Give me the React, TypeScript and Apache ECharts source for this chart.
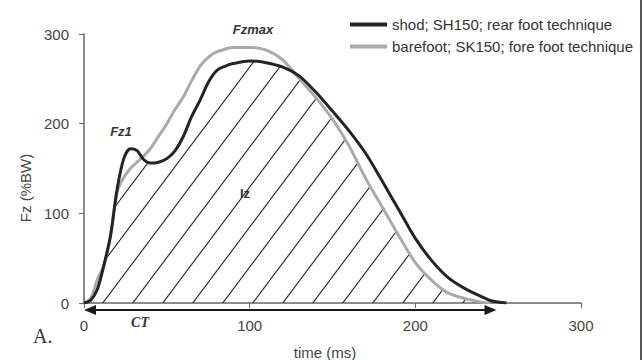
import React, { useEffect, useRef } from "react";
import * as echarts from "echarts";

const times = [0, 4, 8, 12, 16, 20, 24, 28, 32, 36, 40, 45, 50, 55, 60, 65, 70, 75, 80, 85, 90, 100, 110, 120, 130, 140, 150, 160, 170, 180, 190, 200, 210, 220, 230, 240, 245, 250, 255];
const shod = [0, 3, 15, 42, 75, 127, 161, 172, 170, 160, 156, 157, 161, 170, 186, 208, 226, 246, 259, 264, 267, 270, 268, 263, 253, 235, 214, 192, 167, 136, 104, 72, 47, 28, 16, 7, 3, 1, 0];
const barefoot = [0, 5, 26, 42, 75, 124, 140, 150, 157, 164, 172, 186, 200, 216, 230, 248, 264, 274, 280, 283, 285, 285, 282, 271, 250, 229, 205, 175, 139, 107, 75, 45, 25, 11, 5, 1, 0, null, null];
const seriesNames = ["shod; SH150; rear foot technique", "barefoot; SK150; fore foot technique"];
const xTicks = { min: 0, max: 300, interval: 100 };
const yTicks = { min: 0, max: 300, interval: 100 };
const contactTime = 249;

const hatchSvg =
  '<svg xmlns="http://www.w3.org/2000/svg" width="30" height="40">' +
  '<g stroke="#2b2b2b" stroke-width="1.1" fill="none">' +
  '<line x1="-30" y1="40" x2="0" y2="0"/><line x1="0" y1="40" x2="30" y2="0"/><line x1="30" y1="40" x2="60" y2="0"/>' +
  "</g></svg>";
const hatchUrl = "data:image/svg+xml;charset=utf-8," + encodeURIComponent(hatchSvg);

export default function App() {
  const ref = useRef<HTMLDivElement>(null);
  useEffect(() => {
    if (!ref.current) return;
    const chart = echarts.init(ref.current, null, { renderer: "svg" });
    const sans = "'Liberation Sans', Arial, sans-serif";
    const serif = "'Liberation Serif', 'Times New Roman', serif";
    const shodData = times.map((t, i) => [t, shod[i]]);
    const bareData = times.map((t, i) => [t, barefoot[i]]).filter((p) => p[1] !== null);
    const hatchData = times.map((t, i) => [t, Math.min(shod[i], barefoot[i] ?? 0)]);
    chart.setOption({
      animation: false,
      backgroundColor: "#ffffff",
      grid: { left: 84, right: 62, top: 34, bottom: 57 },
      legend: {
        data: seriesNames,
        orient: "vertical",
        left: 345,
        top: 12,
        itemWidth: 37,
        itemHeight: 4,
        itemGap: 7,
        icon: "rect",
        textStyle: { fontFamily: sans, fontSize: 15, color: "#333" },
      },
      xAxis: {
        type: "value",
        ...xTicks,
        axisLine: { lineStyle: { color: "#666", width: 1.5 } },
        axisTick: { show: true, length: 5, lineStyle: { color: "#666" } },
        splitLine: { show: false },
        axisLabel: { fontFamily: sans, fontSize: 15, color: "#444", margin: 15 },
      },
      yAxis: {
        type: "value",
        ...yTicks,
        axisLine: { show: true, lineStyle: { color: "#666", width: 1.5 } },
        axisTick: { show: true, length: 5, lineStyle: { color: "#666" } },
        splitLine: { show: false },
        axisLabel: { fontFamily: sans, fontSize: 15, color: "#444", margin: 15 },
      },
      series: [
        {
          name: "hatch",
          type: "line",
          data: hatchData,
          smooth: 0.3,
          showSymbol: false,
          lineStyle: { width: 0 },
          areaStyle: {
            color: { image: hatchUrl, repeat: "repeat", imageWidth: 30, imageHeight: 40 },
            opacity: 1,
          },
          z: 1,
          silent: true,
        },
        {
          name: seriesNames[1],
          type: "line",
          data: bareData,
          smooth: 0.3,
          showSymbol: false,
          color: "#aaaaaa",
          lineStyle: { width: 3, color: "#aaaaaa" },
          z: 2,
        },
        {
          name: seriesNames[0],
          type: "line",
          data: shodData,
          smooth: 0.3,
          showSymbol: false,
          color: "#242424",
          lineStyle: { width: 3, color: "#242424" },
          z: 3,
        },
      ],
    });
    const p0 = chart.convertToPixel({ xAxisIndex: 0, yAxisIndex: 0 }, [0, 0]) as number[];
    const p1 = chart.convertToPixel({ xAxisIndex: 0, yAxisIndex: 0 }, [contactTime, 0]) as number[];
    const ay = p0[1] + 7;
    chart.setOption({
      graphic: [
        { type: "line", shape: { x1: p0[0] + 6, y1: ay, x2: p1[0] - 6, y2: ay }, style: { stroke: "#1a1a1a", lineWidth: 2 } },
        { type: "polygon", shape: { points: [[p0[0], ay], [p0[0] + 12, ay - 5], [p0[0] + 12, ay + 5]] }, style: { fill: "#1a1a1a" } },
        { type: "polygon", shape: { points: [[p1[0], ay], [p1[0] - 12, ay - 5], [p1[0] - 12, ay + 5]] }, style: { fill: "#1a1a1a" } },
        { type: "text", x: 140, y: 322, style: { text: "CT", font: `italic bold 14px ${serif}`, fill: "#333", align: "center", verticalAlign: "middle" } },
        { type: "text", x: 33, y: 336, style: { text: "A.", font: `20px ${serif}`, fill: "#333", align: "left", verticalAlign: "middle" } },
        { type: "text", x: 121, y: 131, style: { text: "Fz1", font: `italic bold 13px ${sans}`, fill: "#333", align: "center", verticalAlign: "middle" } },
        { type: "text", x: 253, y: 29, style: { text: "Fzmax", font: `italic bold 13px ${sans}`, fill: "#333", align: "center", verticalAlign: "middle" } },
        { type: "text", x: 245, y: 193, style: { text: "Iz", font: `bold 13px ${sans}`, fill: "#333", align: "center", verticalAlign: "middle" } },
        { type: "text", x: 325, y: 352, style: { text: "time (ms)", font: `15px ${sans}`, fill: "#444", align: "center", verticalAlign: "middle" } },
        { type: "text", x: 25, y: 188, rotation: Math.PI / 2, style: { text: "Fz (%BW)", font: `15px ${sans}`, fill: "#444", align: "center", verticalAlign: "middle" } },
        { type: "line", shape: { x1: 641, y1: 0, x2: 641, y2: 360 }, style: { stroke: "#555", lineWidth: 2 } },
      ],
    });
    return () => chart.dispose();
  }, []);
  return <div ref={ref} style={{ width: 643, height: 360, position: "absolute", left: 0, top: 0 }} />;
}
